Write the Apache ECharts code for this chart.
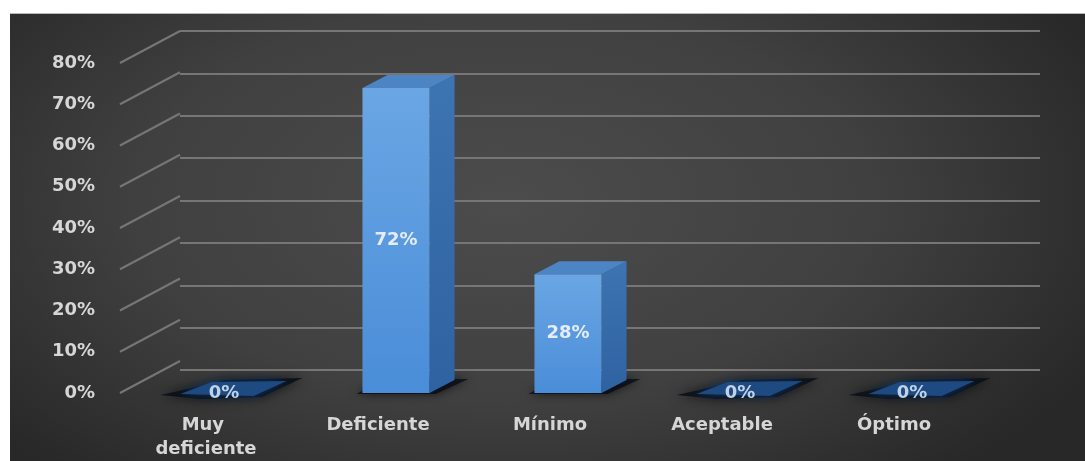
<!DOCTYPE html>
<html><head><meta charset="utf-8">
<script src="https://cdn.jsdelivr.net/npm/echarts@6/dist/echarts.min.js"></script>
<style>
html,body{margin:0;padding:0;background:#fff;width:1085px;height:461px;overflow:hidden;}
#bg{position:absolute;left:10px;top:13px;width:1075px;height:448px;
 background:radial-gradient(ellipse 62% 80% at 46% 42%, #4c4c4c 0%, #404040 55%, #282828 100%);
 border-top:1px solid #b8b8b8;}
#chart{position:absolute;left:0;top:0;width:1085px;height:461px;}
</style></head><body>
<div id="bg"></div><div id="chart"></div>
<script>
// ---- data ----
const categories = ['Muy deficiente', 'Deficiente', 'Mínimo', 'Aceptable', 'Óptimo'];
const values = [0, 72, 28, 0, 0];
const tickValues = [0, 10, 20, 30, 40, 50, 60, 70, 80];
const yMin = 0, yMax = 80, yStep = 10;

// ---- layout ----
const DEPTH_X = 60, DEPTH_Y = 32;   // floor depth (front edge -> back wall)
const BAR_DX = 25, BAR_DY = 13;     // bar depth
const BAR_FRAC = 0.39;
const FONT = 'DejaVu Sans';
const TXT = '#d6d6d6';

const chart = echarts.init(document.getElementById('chart'), null, {renderer: 'canvas'});

function yAx(idx, showLabel, showSplit) {
  return {
    type: 'value', gridIndex: idx, min: yMin, max: yMax, interval: yStep,
    axisLine: {show: false}, axisTick: {show: false},
    axisLabel: {show: showLabel, formatter: '{value}%', color: TXT, fontFamily: FONT,
      fontSize: 18, fontWeight: 'bold', margin: 25},
    splitLine: {show: showSplit, lineStyle: {color: '#767676', width: 2}}
  };
}
function xAx(idx, showLabel) {
  return {
    type: 'category', gridIndex: idx, data: categories,
    axisLine: {show: false}, axisTick: {show: false},
    axisLabel: {show: showLabel, color: TXT, fontFamily: FONT, fontSize: 18, fontWeight: 'bold',
      margin: 20, lineHeight: 24, width: 120, overflow: 'break', interval: 0},
    splitLine: {show: false}
  };
}

const option = {
  animation: false,
  backgroundColor: 'transparent',
  grid: [
    {left: 180, top: 31, width: 860, height: 339},  // back wall
    {left: 120, top: 63, width: 860, height: 339},  // front edge (labels)
    {left: 138, top: 54, width: 860, height: 339}   // bar front plane
  ],
  xAxis: [xAx(0, false), xAx(1, true), xAx(2, false)],
  yAxis: [yAx(0, false, true), yAx(1, true, false), yAx(2, false, false)],
  series: [
    {
      type: 'custom', xAxisIndex: 1, yAxisIndex: 1, silent: true,
      data: tickValues.map(v => [0, v]),
      renderItem(params, api) {
        const y = api.coord([0, api.value(1)])[1];
        const x = params.coordSys.x;
        return {type: 'line', shape: {x1: x, y1: y, x2: x + DEPTH_X, y2: y - DEPTH_Y},
          style: {stroke: '#767676', lineWidth: 2}};
      }
    },
    {
      type: 'custom', xAxisIndex: 2, yAxisIndex: 2, silent: true,
      data: values.map((v, i) => [i, v]),
      renderItem(params, api) {
        const i = api.value(0), v = api.value(1);
        const top = api.coord([i, v]), base = api.coord([i, 0]);
        const bw = api.size([1, 0])[0] * BAR_FRAC;
        const cx = top[0];
        const x0 = cx - bw / 2, x1 = cx + bw / 2;
        const yt = top[1], yb = base[1];
        const ch = [];
        if (v > 0) {
          // floor shadow
          ch.push({type: 'polygon', shape: {points: [[x0 - 6, yb + 1], [x0 + BAR_DX - 4, yb - BAR_DY - 1],
            [x1 + BAR_DX + 14, yb - BAR_DY - 1], [x1 + 6, yb + 1]]},
            style: {fill: 'rgba(5,10,20,0.75)', shadowBlur: 10, shadowColor: 'rgba(0,0,0,0.9)'}});
          ch.push({type: 'polygon', shape: {points: [[x1, yt], [x1 + BAR_DX, yt - BAR_DY], [x1 + BAR_DX, yb - BAR_DY], [x1, yb]]},
            style: {fill: new echarts.graphic.LinearGradient(0, 0, 0, 1, [{offset: 0, color: '#3d74b2'}, {offset: 1, color: '#2f62a0'}])}});
          ch.push({type: 'rect', shape: {x: x0, y: yt, width: bw, height: yb - yt},
            style: {fill: new echarts.graphic.LinearGradient(0, 0, 0, 1, [{offset: 0, color: '#6aa6e4'}, {offset: 1, color: '#4a8dd8'}])}});
          ch.push({type: 'polygon', shape: {points: [[x0, yt], [x0 + BAR_DX, yt - BAR_DY], [x1 + BAR_DX, yt - BAR_DY], [x1, yt]]},
            style: {fill: '#4d84c4'}});
          ch.push({type: 'text', style: {text: v + '%', x: cx, y: (yt + yb) / 2, align: 'center', verticalAlign: 'middle',
            fill: '#e3ecf7', font: 'bold 18px "' + FONT + '"'}});
        } else {
          // flattened zero bar: blurred dark navy smear
          ch.push({type: 'polygon', shape: {points: [[x0 - 30, yb + 2], [x0 + 6, yb - 6], [x0 + BAR_DX + 10, yb - BAR_DY],
            [x1 + BAR_DX + 20, yb - BAR_DY - 2], [x1 + 4, yb + 4], [x0 + 10, yb + 6]]},
            style: {fill: 'rgba(8,14,24,0.85)', shadowBlur: 12, shadowColor: 'rgba(0,0,0,0.9)'}});
          ch.push({type: 'polygon', shape: {points: [[x0 - 10, yb + 1], [x0 + BAR_DX - 4, yb - BAR_DY + 2],
            [x1 + BAR_DX + 4, yb - BAR_DY + 1], [x1 - 4, yb + 3]]},
            style: {fill: '#1d4a80', shadowBlur: 8, shadowColor: 'rgba(20,60,110,0.9)'}});
          ch.push({type: 'text', style: {text: v + '%', x: cx, y: yb, align: 'center', verticalAlign: 'middle',
            fill: '#bfd2e8', font: 'bold 18px "' + FONT + '"'}});
        }
        return {type: 'group', children: ch};
      }
    }
  ]
};
chart.setOption(option);
</script>
</body></html>
